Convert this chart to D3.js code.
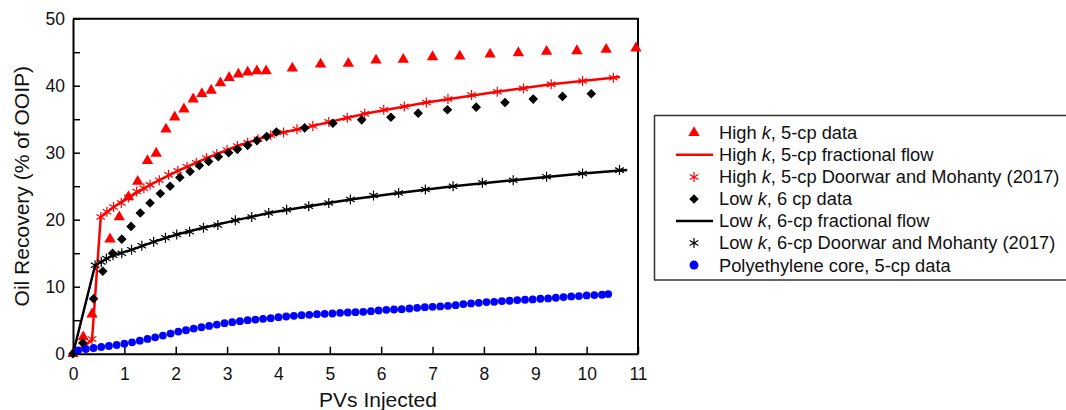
<!DOCTYPE html>
<html>
<head>
<meta charset="utf-8">
<script src="https://cdn.jsdelivr.net/npm/d3@7"></script>
<style>
  body { margin: 0; background: #fff; }
  svg { font-family: "Liberation Sans", Arial, Helvetica, sans-serif; }
</style>
</head>
<body>
<div id="chart"></div>
<script>
// High k, 5-cp data (triangles)
const highKData = [
  [0, 0], [0.2, 2.5], [0.37, 5.9], [0.72, 17.1], [0.9, 20.4], [1.08, 23.4],
  [1.26, 25.7], [1.45, 28.8], [1.62, 29.9], [1.81, 33.5], [1.98, 35.3], [2.16, 36.5],
  [2.34, 38.0], [2.51, 38.8], [2.69, 39.3], [2.87, 40.4], [3.04, 41.2], [3.22, 41.7],
  [3.4, 42.0], [3.58, 42.2], [3.76, 42.2], [4.27, 42.6], [4.82, 43.2], [5.36, 43.3],
  [5.9, 43.8], [6.43, 43.9], [7.0, 44.3], [7.53, 44.4], [8.12, 44.7], [8.67, 44.9],
  [9.22, 45.1], [9.81, 45.2], [10.38, 45.4], [10.96, 45.6]
];

// High k fractional flow (red line)
const highKFlow = [
  [0, 0], [0.37, 2.0], [0.54, 20.4], [0.79, 21.9], [1.08, 23.3], [1.5, 25.2],
  [2.04, 27.3], [2.6, 29.2], [3.2, 31.0], [3.85, 32.6], [4.67, 34.0], [5.68, 35.8],
  [6.88, 37.5], [8.26, 39.1], [9.31, 40.2], [10.65, 41.3]
];

// High k Doorwar and Mohanty (red asterisks)
const highKDM = [
  [0.37, 2.2], [0.54, 20.4], [0.66, 21.2], [0.79, 21.9], [0.94, 22.5], [1.08, 23.3],
  [1.24, 24.2], [1.38, 24.7], [1.5, 25.2], [1.68, 25.9], [1.86, 26.7], [2.04, 27.3],
  [2.22, 27.9], [2.4, 28.5], [2.6, 29.2], [2.8, 29.8], [3.0, 30.4], [3.2, 31.0],
  [3.4, 31.5], [3.6, 32.0], [3.85, 32.6], [4.1, 33.0], [4.36, 33.5], [4.67, 34.0],
  [4.98, 34.6], [5.34, 35.2], [5.68, 35.8], [6.05, 36.4], [6.45, 36.9], [6.88, 37.5],
  [7.3, 38.0], [7.76, 38.6], [8.26, 39.1], [8.77, 39.6], [9.31, 40.2], [9.92, 40.7],
  [10.52, 41.2]
];

// Low k, 6 cp data (diamonds)
const lowKData = [
  [0, 0], [0.19, 1.6], [0.4, 8.2], [0.58, 12.3], [0.77, 15.0], [0.95, 17.1],
  [1.13, 19.0], [1.31, 21.0], [1.5, 22.5], [1.7, 23.9], [1.89, 25.0], [2.08, 26.3],
  [2.28, 27.2], [2.46, 28.1], [2.64, 28.7], [2.83, 29.4], [3.03, 30.0], [3.2, 30.5],
  [3.4, 31.1], [3.58, 31.8], [3.77, 32.4], [3.96, 33.1], [4.51, 33.7], [5.06, 34.4],
  [5.62, 34.9], [6.19, 35.3], [6.72, 35.9], [7.29, 36.4], [7.85, 36.8], [8.41, 37.5],
  [8.96, 38.0], [9.53, 38.4], [10.09, 38.8]
];

// Low k fractional flow (black line)
const lowKFlow = [
  [0, 0], [0.43, 13.2], [0.55, 13.7], [0.78, 14.7], [1.14, 15.5], [1.57, 16.7],
  [2.02, 17.8], [2.54, 18.8], [3.16, 19.9], [3.81, 21.0], [4.59, 22.0], [5.4, 23.0],
  [6.34, 24.0], [7.4, 25.0], [8.57, 25.9], [9.92, 26.9], [10.79, 27.4]
];

// Low k Doorwar and Mohanty (black asterisks)
const lowKDM = [
  [0.43, 13.2], [0.55, 13.7], [0.65, 14.2], [0.78, 14.7], [0.95, 15.0], [1.14, 15.5],
  [1.34, 16.1], [1.57, 16.7], [1.8, 17.3], [2.02, 17.8], [2.27, 18.2], [2.54, 18.8],
  [2.82, 19.2], [3.16, 19.9], [3.48, 20.4], [3.81, 21.0], [4.16, 21.5], [4.59, 22.0],
  [4.98, 22.5], [5.4, 23.0], [5.85, 23.6], [6.34, 24.0], [6.86, 24.5], [7.4, 25.0],
  [7.97, 25.5], [8.57, 25.9], [9.22, 26.4], [9.92, 26.9], [10.64, 27.4]
];

// Polyethylene core, 5-cp data (blue dots)
const polyData = [
  [0.1, 0.5], [0.25, 0.7], [0.4, 0.85], [0.55, 1.0], [0.7, 1.15], [0.85, 1.3],
  [1.0, 1.5], [1.15, 1.7], [1.3, 1.95], [1.45, 2.2], [1.6, 2.45], [1.75, 2.7],
  [1.9, 3.0], [2.05, 3.3], [2.2, 3.5], [2.35, 3.75], [2.5, 3.95], [2.65, 4.15],
  [2.8, 4.35], [2.95, 4.55], [3.1, 4.7], [3.25, 4.85], [3.4, 5.0], [3.55, 5.1],
  [3.7, 5.2], [3.85, 5.3], [4.0, 5.45], [4.15, 5.55], [4.3, 5.65], [4.45, 5.75],
  [4.6, 5.8], [4.75, 5.9], [4.9, 5.95], [5.05, 6.0], [5.2, 6.1], [5.35, 6.15],
  [5.5, 6.2], [5.65, 6.25], [5.8, 6.35], [5.95, 6.45], [6.1, 6.55], [6.25, 6.6],
  [6.4, 6.65], [6.55, 6.75], [6.7, 6.85], [6.85, 6.95], [7.0, 7.0], [7.15, 7.05],
  [7.3, 7.15], [7.45, 7.25], [7.6, 7.4], [7.75, 7.5], [7.9, 7.6], [8.05, 7.7],
  [8.2, 7.75], [8.35, 7.85], [8.5, 7.9], [8.65, 8.0], [8.8, 8.05], [8.95, 8.1],
  [9.1, 8.2], [9.25, 8.25], [9.4, 8.35], [9.55, 8.45], [9.7, 8.55], [9.85, 8.6],
  [10.0, 8.7], [10.15, 8.75], [10.3, 8.8], [10.42, 8.9]
];

const xTicks = d3.range(0, 12);
const yTicks = d3.range(0, 51, 5);

// legend rows: [before italic, italic, after, symbol type]
const legendRows = [
  ['High ', 'k', ', 5-cp data', 'triangle'],
  ['High ', 'k', ', 5-cp fractional flow', 'redline'],
  ['High ', 'k', ', 5-cp Doorwar and Mohanty (2017)', 'redstar'],
  ['Low ', 'k', ', 6 cp data', 'diamond'],
  ['Low ', 'k', ', 6-cp fractional flow', 'blackline'],
  ['Low ', 'k', ', 6-cp Doorwar and Mohanty (2017)', 'blackstar'],
  ['Polyethylene core, 5-cp data', '', '', 'dot']
];

const width = 1066, height = 410;
const svg = d3.select('#chart').append('svg')
  .attr('width', width)
  .attr('height', height);

const x = d3.scaleLinear().domain([0, 11]).range([73, 638]);
const y = d3.scaleLinear().domain([0, 50]).range([353.7, 18.7]);

const triangle = d3.symbol().type(d3.symbolTriangle).size(56);
const diamond = d3.symbol().type(d3.symbolSquare).size(46);
const star = d3.symbol().type(d3.symbolAsterisk).size(70);

const line = d3.line().x(d => x(d[0])).y(d => y(d[1]));

// frame top / right
svg.append('path')
  .attr('d', `M${x(0)},${y(50)}H${x(11)}V${y(0)}`)
  .attr('fill', 'none')
  .attr('stroke', '#000')
  .attr('stroke-width', 2);

// axes
const xAxis = svg.append('g')
  .attr('transform', `translate(0,${y(0)})`)
  .call(d3.axisBottom(x).tickValues(xTicks).tickSize(-7).tickSizeOuter(0).tickPadding(14));

const yAxis = svg.append('g')
  .attr('transform', `translate(${x(0)},0)`)
  .call(d3.axisLeft(y).tickValues(yTicks).tickSize(-7).tickSizeOuter(0).tickPadding(8)
    .tickFormat(d => d % 10 === 0 ? d : ''));

[xAxis, yAxis].forEach(a => {
  a.select('.domain').attr('stroke-width', 2);
  a.selectAll('.tick line').attr('stroke-width', 1.5);
  a.selectAll('text').attr('font-size', 17.5).attr('fill', '#111')
    .attr('font-family', '"Liberation Sans", Arial, sans-serif');
});

svg.append('text')
  .attr('x', 378).attr('y', 407)
  .attr('text-anchor', 'middle')
  .attr('font-size', 21)
  .attr('fill', '#111')
  .text('PVs Injected');

svg.append('text')
  .attr('transform', `translate(29,${y(25)}) rotate(-90)`)
  .attr('text-anchor', 'middle')
  .attr('font-size', 21)
  .attr('fill', '#111')
  .text('Oil Recovery (% of OOIP)');

// series
svg.append('g').selectAll('path')
  .data(highKData).enter().append('path')
  .attr('d', triangle)
  .attr('transform', d => `translate(${x(d[0])},${y(d[1])})`)
  .attr('fill', '#ff0000');

svg.append('path')
  .datum(highKFlow)
  .attr('d', line)
  .attr('fill', 'none')
  .attr('stroke', '#ff0000')
  .attr('stroke-width', 2.5);

svg.append('g').selectAll('path')
  .data(highKDM).enter().append('path')
  .attr('d', star)
  .attr('transform', d => `translate(${x(d[0])},${y(d[1])})`)
  .attr('fill', 'none')
  .attr('stroke', '#ff0000')
  .attr('stroke-width', 1.2);

svg.append('g').selectAll('path')
  .data(lowKData).enter().append('path')
  .attr('d', diamond)
  .attr('transform', d => `translate(${x(d[0])},${y(d[1])}) rotate(45)`)
  .attr('fill', '#000');

svg.append('path')
  .datum(lowKFlow)
  .attr('d', line)
  .attr('fill', 'none')
  .attr('stroke', '#000')
  .attr('stroke-width', 2.5);

svg.append('g').selectAll('path')
  .data(lowKDM).enter().append('path')
  .attr('d', star)
  .attr('transform', d => `translate(${x(d[0])},${y(d[1])})`)
  .attr('fill', 'none')
  .attr('stroke', '#000')
  .attr('stroke-width', 1.2);

svg.append('g').selectAll('circle')
  .data(polyData).enter().append('circle')
  .attr('cx', d => x(d[0]))
  .attr('cy', d => y(d[1]))
  .attr('r', 3.9)
  .attr('fill', '#0000ff');

// legend
const legend = svg.append('g');
legend.append('rect')
  .attr('x', 654.5).attr('y', 115.5)
  .attr('width', 430).attr('height', 164.5)
  .attr('fill', '#fff')
  .attr('stroke', '#333')
  .attr('stroke-width', 1.5);

const rows = legend.selectAll('g.row')
  .data(legendRows).enter().append('g')
  .attr('class', 'row')
  .attr('transform', (d, i) => `translate(0,${132.8 + i * 22.05})`);

rows.each(function(d) {
  const g = d3.select(this);
  const kind = d[3];
  if (kind === 'triangle') {
    g.append('path').attr('d', triangle).attr('transform', 'translate(694,0)').attr('fill', '#ff0000');
  } else if (kind === 'redline' || kind === 'blackline') {
    g.append('line').attr('x1', 676).attr('x2', 713).attr('y1', 0).attr('y2', 0)
      .attr('stroke', kind === 'redline' ? '#ff0000' : '#000').attr('stroke-width', 2.5);
  } else if (kind === 'redstar' || kind === 'blackstar') {
    g.append('path').attr('d', star).attr('transform', 'translate(694,0)')
      .attr('fill', 'none').attr('stroke', kind === 'redstar' ? '#ff0000' : '#000').attr('stroke-width', 1.2);
  } else if (kind === 'diamond') {
    g.append('path').attr('d', diamond).attr('transform', 'translate(694,0) rotate(45)').attr('fill', '#000');
  } else if (kind === 'dot') {
    g.append('circle').attr('cx', 694).attr('cy', 0).attr('r', 4.5).attr('fill', '#0000ff');
  }
  const t = g.append('text')
    .attr('x', 719).attr('y', 6.4)
    .attr('font-size', 18.3)
    .attr('fill', '#111');
  t.append('tspan').text(d[0]);
  if (d[1]) t.append('tspan').attr('font-style', 'italic').text(d[1]);
  if (d[2]) t.append('tspan').text(d[2]);
});
</script>
</body>
</html>
